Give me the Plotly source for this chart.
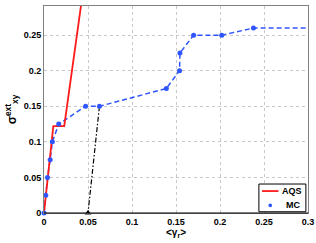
import plotly.graph_objects as go

aqs_x = [0.0, 0.0106, 0.023, 0.043]
aqs_y = [0.0, 0.122, 0.122, 0.30]

mc_x = [0.0, 0.002, 0.004, 0.007, 0.0095, 0.0167, 0.0473, 0.063, 0.139, 0.154, 0.1545, 0.170, 0.202, 0.238, 0.30]
mc_y = [0.0, 0.025, 0.05, 0.075, 0.10, 0.125, 0.15, 0.15, 0.175, 0.20, 0.225, 0.25, 0.25, 0.26, 0.26]
mc_marker_x = mc_x[:-1]
mc_marker_y = mc_y[:-1]

unload_x = [0.063, 0.05]
unload_y = [0.15, 0.0]

x_ticks = [0, 0.05, 0.1, 0.15, 0.2, 0.25, 0.3]
x_ticklabels = ["0", "0.05", "0.1", "0.15", "0.2", "0.25", "0.3"]
y_ticks = [0, 0.05, 0.1, 0.15, 0.2, 0.25]
y_ticklabels = ["0", "0.05", "0.1", "0.15", "0.2", "0.25"]

legend_names = ["AQS", "MC"]

blue = "#2f55ff"
red = "#ff1a1a"

fig = go.Figure()
fig.add_trace(go.Scatter(x=mc_x, y=mc_y, mode="lines",
                         line=dict(color=blue, width=1.5, dash="5px,3px"),
                         showlegend=False))
fig.add_trace(go.Scatter(x=unload_x, y=unload_y, mode="lines",
                         line=dict(color="black", width=1.2, dash="5px,2px,1.5px,2px"),
                         showlegend=False))
fig.add_trace(go.Scatter(x=[unload_x[-1]], y=[unload_y[-1]], mode="markers",
                         marker=dict(symbol="triangle-up", color="black", size=6),
                         showlegend=False, cliponaxis=False))
fig.add_trace(go.Scatter(x=aqs_x, y=aqs_y, mode="lines", name=legend_names[0],
                         line=dict(color=red, width=1.8), showlegend=False))
fig.add_trace(go.Scatter(x=mc_marker_x, y=mc_marker_y, mode="markers", name=legend_names[1],
                         marker=dict(color=blue, size=5), cliponaxis=False, showlegend=False))

fig.update_layout(
    width=316, height=243,
    margin=dict(l=44, r=8, t=6, b=30),
    paper_bgcolor="white", plot_bgcolor="white",
    font=dict(family="Liberation Sans, Arial", size=9, color="black", weight="bold"),
    xaxis=dict(range=[0, 0.3], tickvals=x_ticks, ticktext=x_ticklabels,
               showgrid=True, gridcolor="#c8c8c8", griddash="dot", gridwidth=1,
               showline=True, linecolor="#808080", linewidth=1, mirror=True,
               zeroline=False, ticks="", ticklen=0, automargin=False,
               title=dict(text="&lt;γ<sub>r</sub>&gt;", standoff=2, font=dict(size=10))),
    yaxis=dict(range=[0, 0.291], tickvals=y_ticks, ticktext=y_ticklabels,
               showgrid=True, gridcolor="#c8c8c8", griddash="dot", gridwidth=1,
               showline=True, linecolor="#808080", linewidth=1, mirror=True,
               zeroline=False, ticks="", ticklen=0, automargin=False,
               title=dict(text="σ<sup>ext</sup><sub>xy</sub>", standoff=4, font=dict(size=12))),
)
fig.add_shape(type="line", xref="paper", yref="paper", x0=0, x1=1, y0=0, y1=0,
              line=dict(color="black", width=1.2))

# compact legend box (lower right)
fig.add_shape(type="rect", xref="paper", yref="paper", x0=0.814, x1=0.992, y0=0.006, y1=0.140,
              line=dict(color="black", width=1), fillcolor="white", layer="above")
fig.add_shape(type="line", xref="paper", yref="paper", x0=0.826, x1=0.888, y0=0.106, y1=0.106,
              line=dict(color=red, width=1.8), layer="above")
fig.add_shape(type="circle", xref="paper", yref="paper", x0=0.850, x1=0.864, y0=0.028, y1=0.046,
              line=dict(color=blue, width=0), fillcolor=blue, layer="above")
fig.add_annotation(xref="paper", yref="paper", x=0.893, y=0.106, text=legend_names[0],
                   showarrow=False, xanchor="left", yanchor="middle",
                   font=dict(size=9, weight="bold"))
fig.add_annotation(xref="paper", yref="paper", x=0.910, y=0.037, text=legend_names[1],
                   showarrow=False, xanchor="left", yanchor="middle",
                   font=dict(size=9, weight="bold"))

fig.write_html("out.html", config={"displayModeBar": False},
               post_script="document.body.style.margin='0';document.body.style.overflow='hidden';")
